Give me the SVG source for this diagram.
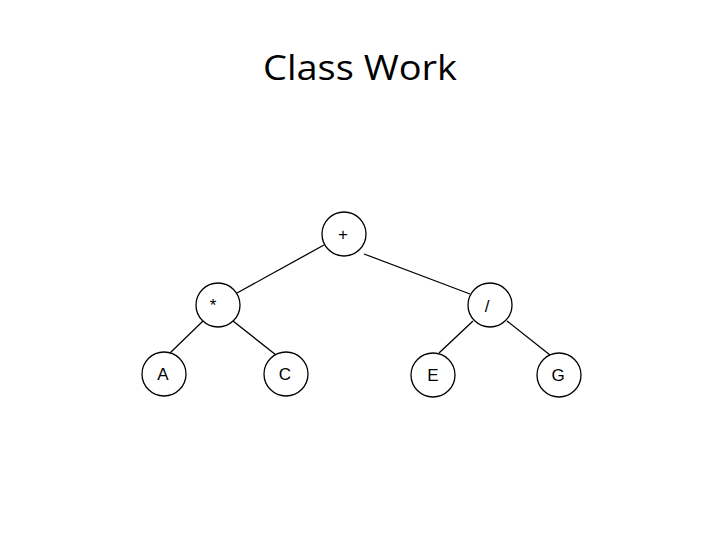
<svg xmlns="http://www.w3.org/2000/svg" width="720" height="540" viewBox="0 0 720 540">
<style>
.n{fill:#fff;stroke:#000;stroke-width:1.3}
.t{font-family:"Liberation Sans",Arial,sans-serif;font-size:17px;fill:#000;text-anchor:middle}
.e{stroke:#000;stroke-width:1.3;fill:none}
</style>
<rect width="720" height="540" fill="#fff"/>
<text x="360" y="80" font-family="'Open Sans','Liberation Sans',sans-serif" font-size="35" text-anchor="middle" textLength="194" lengthAdjust="spacingAndGlyphs" fill="#000">Class Work</text>
<g id="edges">
<line class="e" x1="324" y1="245" x2="237" y2="293"/>
<line class="e" x1="364" y1="254" x2="470" y2="294"/>
<line class="e" x1="203" y1="321" x2="170" y2="353"/>
<line class="e" x1="233" y1="321" x2="276" y2="355"/>
<line class="e" x1="473" y1="321" x2="439" y2="353"/>
<line class="e" x1="507" y1="321" x2="550" y2="355"/>
</g>
<g id="plus"><circle class="n" cx="344" cy="234" r="22"/><text class="t" x="343" y="240">+</text></g>
<g id="times"><circle class="n" cx="218" cy="305" r="22"/><text class="t" x="213" y="311">*</text></g>
<g id="div"><circle class="n" cx="490" cy="305" r="22"/><text class="t" x="487" y="312">/</text></g>
<g id="A"><circle class="n" cx="164" cy="374" r="22"/><text class="t" x="163" y="380">A</text></g>
<g id="C"><circle class="n" cx="286" cy="374" r="22"/><text class="t" x="285" y="380">C</text></g>
<g id="E"><circle class="n" cx="433" cy="375" r="22"/><text class="t" x="433" y="381">E</text></g>
<g id="G"><circle class="n" cx="559" cy="375" r="22"/><text class="t" x="558" y="381">G</text></g>
</svg>
